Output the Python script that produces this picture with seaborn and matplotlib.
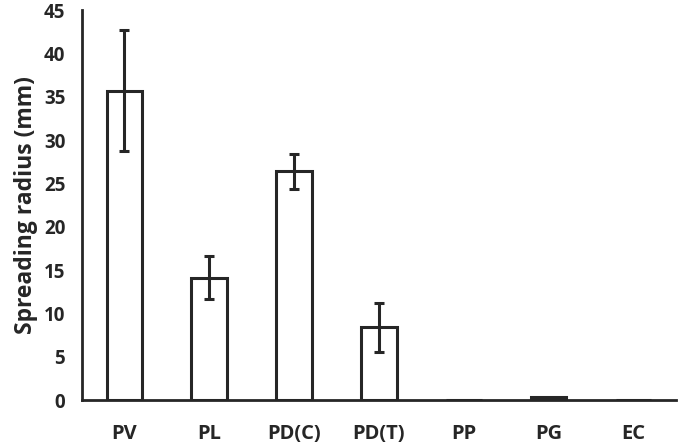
import matplotlib
matplotlib.use("Agg")
import matplotlib.pyplot as plt
import seaborn as sns
import pandas as pd
import numpy as np

categories = ["PV", "PL", "PD(C)", "PD(T)", "PP", "PG", "EC"]
values = [35.7, 14.1, 26.4, 8.4, 0.0, 0.3, 0.0]
errors = [7.0, 2.5, 2.0, 2.85, 0.0, 0.0, 0.0]
yticks = [0, 5, 10, 15, 20, 25, 30, 35, 40, 45]

sns.set_style("white")
plt.rcParams['font.family'] = ['Open Sans', 'DejaVu Sans']

df = pd.DataFrame({"cat": categories, "val": values})
color = "#262626"

fig = plt.figure(figsize=(6.8, 4.45), dpi=100)
ax = fig.add_axes([0.1206, 0.1011, 0.8734, 0.8764])

sns.barplot(data=df, x="cat", y="val", order=categories, ax=ax,
            color="white", edgecolor=color, linewidth=2.2, width=0.42,
            errorbar=None)
for p in ax.patches:
    p.set_facecolor("white")

xs = np.arange(len(categories))
mask = np.array(errors) > 0
ax.errorbar(xs[mask], np.array(values)[mask], yerr=np.array(errors)[mask],
            fmt="none", ecolor=color, elinewidth=2.2, capsize=3.5, capthick=2.2)

ax.set_xlim(-0.5, len(categories) - 0.5)
ax.set_ylim(0, 45)
ax.set_yticks(yticks)
ax.set_yticklabels([str(t) for t in yticks], fontsize=13.5, fontweight="bold", color=color)
ax.set_xticks(xs)
ax.set_xticklabels(categories, fontsize=14.5, fontweight="bold", color=color)
ax.set_xticks(np.arange(len(categories) + 1) - 0.5, minor=True)
ax.tick_params(axis="x", which="major", length=0, pad=17)
ax.tick_params(axis="x", which="minor", length=5, width=2, color=color, direction="out")
ax.tick_params(axis="y", which="major", length=5, width=2, color=color, direction="out", pad=7)
ax.set_xlabel("")
ax.set_ylabel("Spreading radius (mm)", fontsize=16.5, fontweight="bold", color=color, labelpad=4)

for s in ["top", "right"]:
    ax.spines[s].set_visible(False)
for s in ["left", "bottom"]:
    ax.spines[s].set_color(color)
    ax.spines[s].set_linewidth(2)

fig.savefig("out.png", dpi=100)
